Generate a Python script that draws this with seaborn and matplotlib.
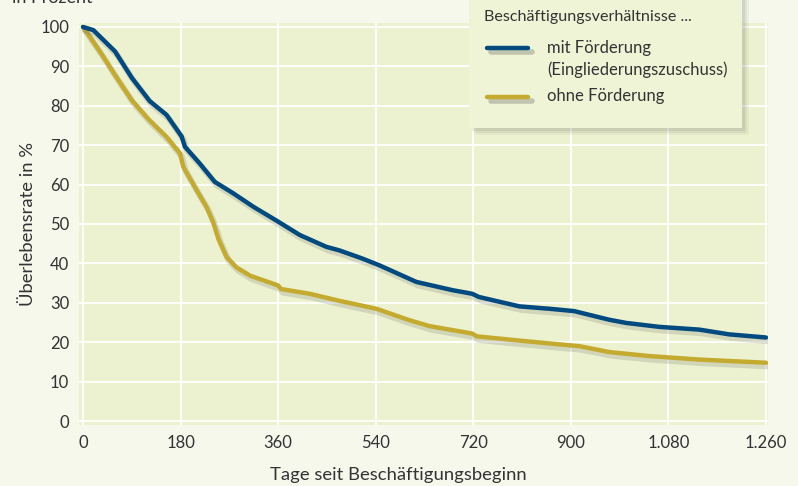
import numpy as np
import pandas as pd
import matplotlib
matplotlib.use("Agg")
import matplotlib.pyplot as plt
import matplotlib.patheffects as pe
from matplotlib.patches import Rectangle
from matplotlib.lines import Line2D
import seaborn as sns

# Data
days_mit = [0, 19, 59, 90, 123, 154, 182, 188, 215, 243, 277, 314, 360, 400, 449,
            473, 516, 547, 581, 615, 682, 718, 730, 805, 860, 906, 971, 1002,
            1063, 1137, 1192, 1260]
rate_mit = [100, 99.2, 93.8, 87.1, 81.2, 77.7, 72.2, 69.6, 65.4, 60.7, 57.8, 54.4,
            50.6, 47.2, 44.2, 43.3, 41.2, 39.5, 37.4, 35.3, 33.2, 32.3, 31.5, 29.1,
            28.5, 27.9, 25.7, 24.9, 23.9, 23.2, 22.0, 21.2]
days_ohne = [0, 31, 59, 90, 120, 154, 179, 185, 210, 228, 240, 250, 265, 283, 308,
             360, 365, 418, 473, 541, 602, 639, 718, 726, 799, 860, 916, 971, 1044,
             1137, 1260]
rate_ohne = [100, 93.8, 87.8, 81.4, 76.7, 72.1, 67.9, 64.5, 58.5, 54.3, 50.5, 46.2,
             41.6, 39.0, 36.9, 34.4, 33.5, 32.3, 30.5, 28.5, 25.6, 24.1, 22.2, 21.5,
             20.5, 19.7, 19.0, 17.5, 16.5, 15.6, 14.8]
x_ticks = [0, 180, 360, 540, 720, 900, 1080, 1260]
x_ticklabels = ["0", "180", "360", "540", "720", "900", "1.080", "1.260"]
y_ticks = list(range(0, 101, 10))
series_labels = ["mit Förderung\n(Eingliederungszuschuss)", "ohne Förderung"]

BLUE = "#004a7f"
GOLD = "#c4ab2f"
TXT = "#333333"

sns.set_style("white")
plt.rcParams['font.family'] = ['Lato', 'DejaVu Sans']

fig = plt.figure(figsize=(7.98, 4.86), dpi=100, facecolor="#f5f8eb")
ax = fig.add_axes([79 / 798, 61 / 486, 689 / 798, 402 / 486])
ax.set_facecolor("#ecf2cf")

shadow = [pe.SimpleLineShadow(offset=(1.5, -2.5), shadow_color="#666666", alpha=0.2, linewidth=4.5),
          pe.Normal()]

df_mit = pd.DataFrame({"tage": days_mit, "rate": rate_mit})
df_ohne = pd.DataFrame({"tage": days_ohne, "rate": rate_ohne})
sns.lineplot(data=df_ohne, x="tage", y="rate", ax=ax, color=GOLD, lw=3.2,
             path_effects=shadow, zorder=3)
sns.lineplot(data=df_mit, x="tage", y="rate", ax=ax, color=BLUE, lw=3.2,
             path_effects=shadow, zorder=4)

ax.set_xlim(-7.4, 1263.7)
ax.set_ylim(-1.0, 101.0)
ax.set_xticks(x_ticks)
ax.set_xticklabels(x_ticklabels)
ax.set_yticks(y_ticks)
ax.grid(True, color="white", lw=1.3)
ax.set_axisbelow(True)
for s in ax.spines.values():
    s.set_visible(False)
ax.tick_params(length=0, labelsize=12, labelcolor=TXT, pad=7)

ax.set_xlabel("Tage seit Beschäftigungsbeginn", fontsize=13.3, color=TXT)
ax.set_ylabel("Überlebensrate in %", fontsize=13.3, color=TXT)
ax.xaxis.set_label_coords(0.464, -0.105)
ax.yaxis.set_label_coords(-0.063, 0.5)

# cut-off unit label at the top left
fig.text(12 / 798, 0.994, "in Prozent", fontsize=13, color=TXT, va="baseline", ha="left")

# legend box drawn by hand
W, H = 798, 486
def fx(px):
    return px / W
def fy(py):
    return 1 - py / H

for i, a in enumerate([0.10, 0.08, 0.06]):
    off = 3 + 2 * i
    fig.patches.append(Rectangle((fx(469 + off), fy(128 + off)), fx(273), 140 / H,
                                 transform=fig.transFigure, facecolor="#555555",
                                 alpha=a, edgecolor="none", zorder=5))
fig.patches.append(Rectangle((fx(469), fy(128)), fx(273), 140 / H,
                             transform=fig.transFigure, facecolor="#eff4d6",
                             edgecolor="none", zorder=6))
fig.text(fx(484), fy(17), "Beschäftigungsverhältnisse ...", fontsize=11.6, color=TXT,
         va="center", ha="left", zorder=7)
for col, ly in [(BLUE, 48), (GOLD, 97)]:
    fig.lines.append(Line2D([fx(487), fx(528)], [fy(ly), fy(ly)], transform=fig.transFigure,
                            color=col, lw=3.2, zorder=7,
                            path_effects=[pe.SimpleLineShadow(offset=(3, -3), shadow_color="#555555",
                                                              alpha=0.3, linewidth=4),
                                          pe.Normal()]))
fig.text(fx(547), fy(48), series_labels[0].split("\n")[0], fontsize=12, color=TXT,
         va="center", ha="left", zorder=7)
fig.text(fx(547), fy(70), series_labels[0].split("\n")[1], fontsize=12, color=TXT,
         va="center", ha="left", zorder=7)
fig.text(fx(547), fy(96), series_labels[1], fontsize=12, color=TXT,
         va="center", ha="left", zorder=7)

fig.savefig("out.png", dpi=100, facecolor=fig.get_facecolor())
